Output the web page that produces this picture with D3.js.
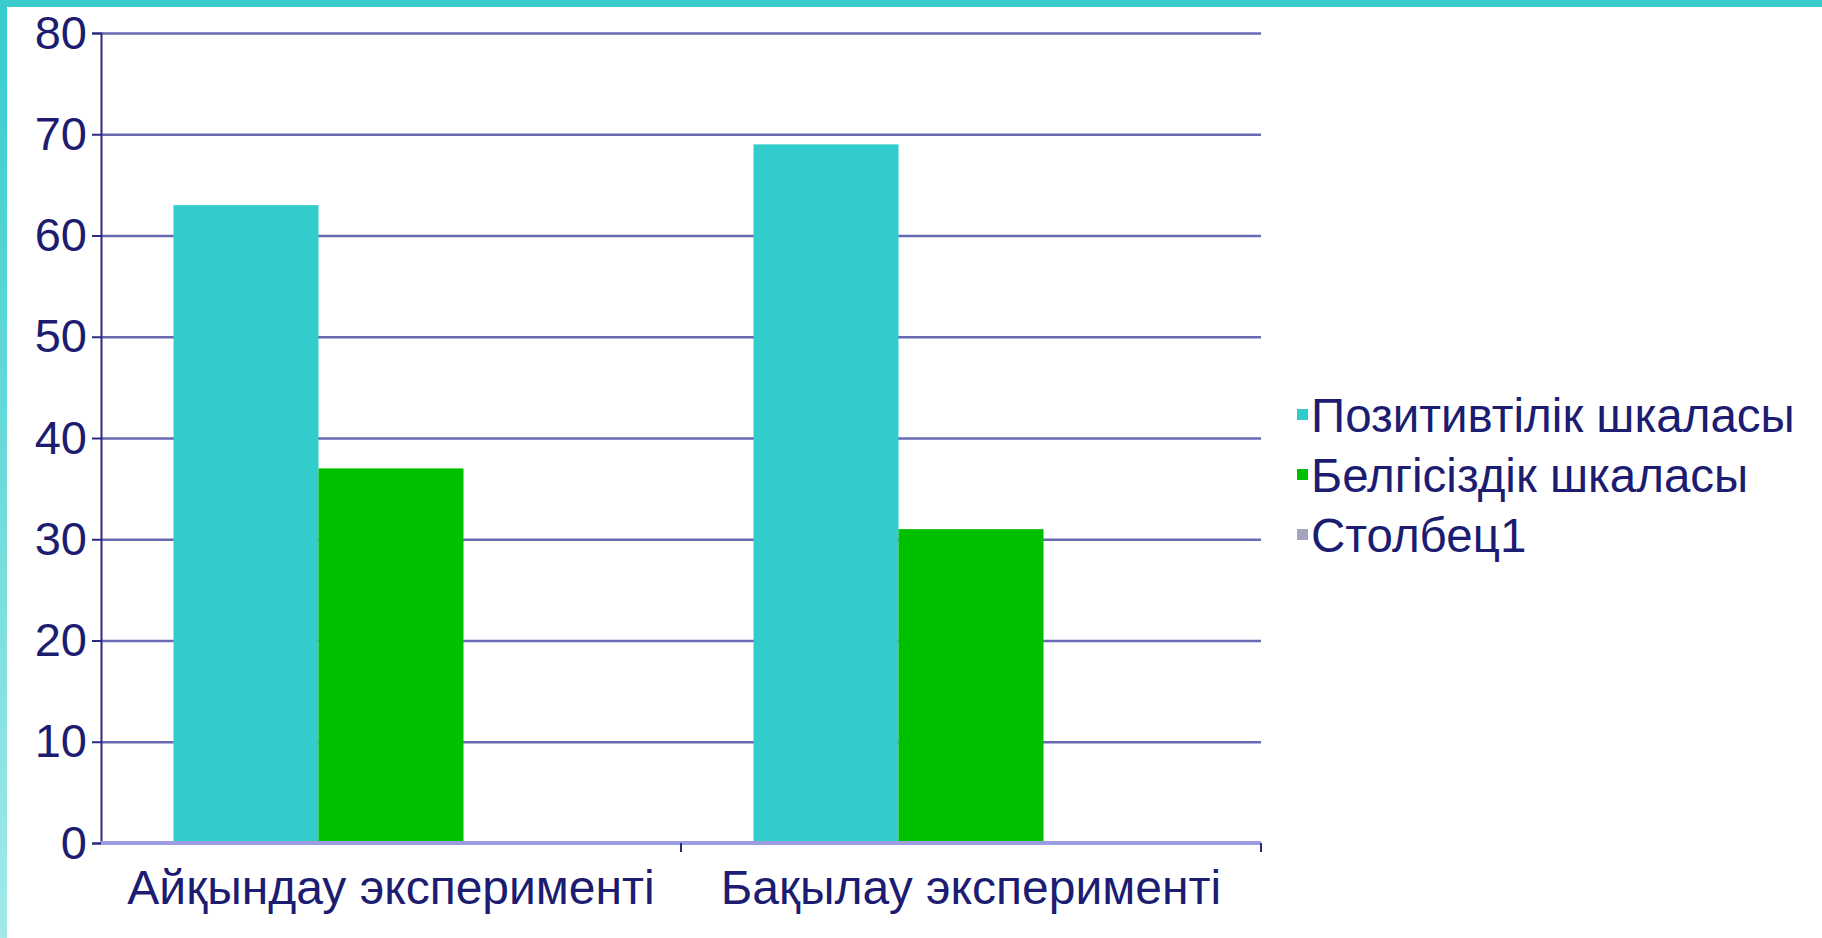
<!DOCTYPE html>
<html>
<head>
<meta charset="utf-8">
<script src="https://cdn.jsdelivr.net/npm/d3@7"></script>
<style>
  html, body { margin: 0; padding: 0; background: #fff; overflow: hidden; }
  text { font-family: "Liberation Sans", Arial, sans-serif; fill: #1c1c70; }
</style>
</head>
<body>
<div id="chart"></div>
<script>
// chart values
const categories = ['Айқындау эксперименті', 'Бақылау эксперименті'];
const seriesNames = ['Позитивтілік шкаласы', 'Белгісіздік шкаласы', 'Столбец1'];
const positivity = [63, 69];
const uncertainty = [37, 31];
const column1 = [null, null];
const yTicks = [0, 10, 20, 30, 40, 50, 60, 70, 80];

const seriesValues = [positivity, uncertainty, column1];
const colors = ['#33cccc', '#00c000', '#a4a4bc'];

// set the dimensions and margins of the graph
let W = 1822, H = 938;
let margin = {top: 33, left: 101};
let width = 1160;
let height = 810;

let svg = d3.select('#chart')
  .append('svg')
  .attr('width', W)
  .attr('height', H);

// slide frame: top strip and left gradient strip
let grad = svg.append('defs').append('linearGradient')
  .attr('id', 'leftStrip')
  .attr('x1', 0).attr('y1', 0).attr('x2', 0).attr('y2', 1);
grad.append('stop').attr('offset', '0%').attr('stop-color', '#36cccc');
grad.append('stop').attr('offset', '100%').attr('stop-color', '#a2e9e9');
svg.append('rect').attr('x', 0).attr('y', 0).attr('width', 7).attr('height', H).attr('fill', 'url(#leftStrip)');
svg.append('rect').attr('x', 0).attr('y', 0).attr('width', W).attr('height', 7).attr('fill', '#3acccc');

let g = svg.append('g')
  .attr('transform', 'translate(' + margin.left + ',' + margin.top + ')');

// scales
let x0 = d3.scaleBand().domain(categories).range([0, width]).padding(0);
let x1 = d3.scaleBand().domain(seriesNames).range([0, x0.bandwidth()])
  .paddingInner(0).paddingOuter(0.5);
let y = d3.scaleLinear().domain([0, 80]).range([height, 0]);

// gridlines
g.append('g')
  .attr('class', 'grid')
  .call(d3.axisLeft(y).tickValues(yTicks.slice(1)).tickSize(-width).tickFormat(''))
  .call(s => s.select('.domain').remove())
  .call(s => s.selectAll('line').attr('stroke', '#6a6ab4').attr('stroke-width', 2.5));

// bars
seriesValues.forEach((vals, si) => {
  g.append('g')
    .selectAll('rect')
    .data(vals.map((v, i) => ({cat: categories[i], v: v})).filter(d => d.v != null))
    .join('rect')
    .attr('x', d => x0(d.cat) + x1(seriesNames[si]))
    .attr('y', d => y(d.v))
    .attr('width', x1.bandwidth())
    .attr('height', d => height - y(d.v))
    .attr('fill', colors[si]);
});

// Y axis
g.append('g')
  .call(d3.axisLeft(y).tickValues(yTicks).tickSize(9).tickPadding(5))
  .call(s => s.select('.domain').attr('stroke', '#2a2a80').attr('stroke-width', 2))
  .call(s => s.selectAll('.tick line').attr('stroke', '#2a2a80').attr('stroke-width', 2))
  .call(s => s.selectAll('text').attr('font-size', 47).attr('fill', '#1c1c70')
    .style('font-family', '"Liberation Sans", Arial, sans-serif'));

// X axis baseline and category boundary ticks
g.append('line')
  .attr('x1', 0).attr('x2', width)
  .attr('y1', height).attr('y2', height)
  .attr('stroke', '#9c9ce0').attr('stroke-width', 4);

let bounds = categories.map(c => x0(c)).concat([x0.range()[1]]);
g.append('g')
  .selectAll('line')
  .data(bounds.slice(1))
  .join('line')
  .attr('x1', d => d).attr('x2', d => d)
  .attr('y1', height).attr('y2', height + 9)
  .attr('stroke', '#2a2a80').attr('stroke-width', 2);

g.append('g')
  .attr('transform', 'translate(0,' + height + ')')
  .call(d3.axisBottom(x0).tickSize(0).tickPadding(27))
  .call(s => s.select('.domain').remove())
  .call(s => s.selectAll('text').attr('font-size', 48).attr('fill', '#1c1c70')
    .style('font-family', '"Liberation Sans", Arial, sans-serif'));

// legend
let legend = svg.append('g')
  .attr('transform', 'translate(1297,415)');
let items = legend.selectAll('g')
  .data(seriesNames)
  .join('g')
  .attr('transform', (d, i) => 'translate(0,' + (i * 60) + ')');
items.append('rect')
  .attr('x', 0).attr('y', -6)
  .attr('width', 11).attr('height', 11)
  .attr('fill', (d, i) => colors[i]);
items.append('text')
  .attr('x', 14)
  .attr('dy', '0.35em')
  .attr('font-size', 47.5)
  .text(d => d);
</script>
</body>
</html>
